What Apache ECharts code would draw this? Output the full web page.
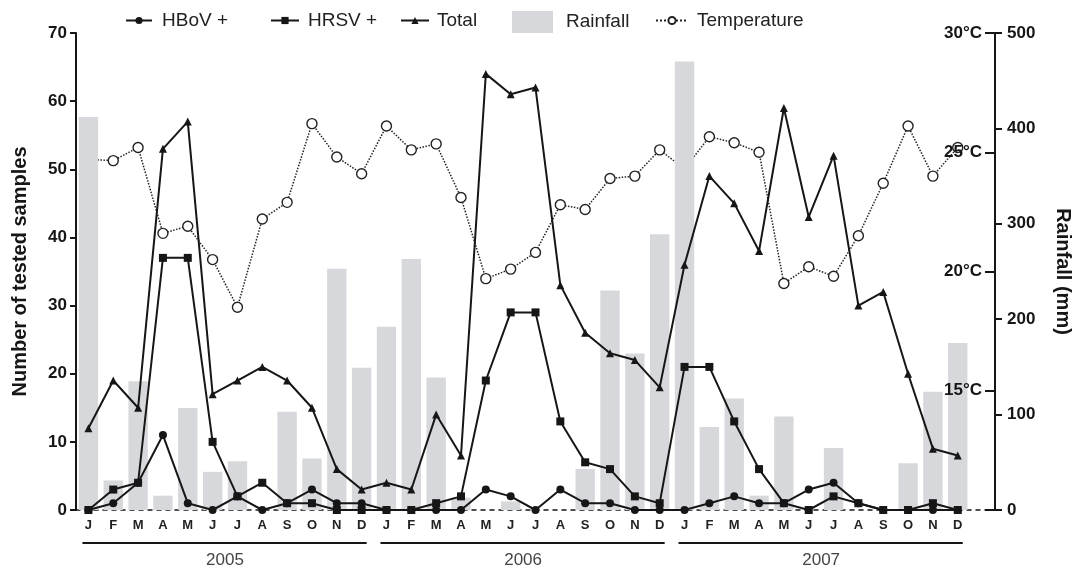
<!DOCTYPE html>
<html><head><meta charset="utf-8">
<script src="https://cdn.jsdelivr.net/npm/echarts@6/dist/echarts.min.js"></script>
<style>html,body{margin:0;padding:0;background:#fff}#c{width:1076px;height:573px}</style>
</head><body><div id="c"></div>
<script>
const monthLabels = ['J','F','M','A','M','J','J','A','S','O','N','D',
                     'J','F','M','A','M','J','J','A','S','O','N','D',
                     'J','F','M','A','M','J','J','A','S','O','N','D'];
const years = ['2005','2006','2007'];
const hbov = [0,1,4,11,1,0,2,0,1,3,1,1, 0,0,0,0,3,2,0,3,1,1,0,0, 0,1,2,1,1,3,4,1,0,0,0,0];
const hrsv = [0,3,4,37,37,10,2,4,1,1,0,0, 0,0,1,2,19,29,29,13,7,6,2,1, 21,21,13,6,1,0,2,1,0,0,1,0];
const total = [12,19,15,53,57,17,19,21,19,15,6,3, 4,3,14,8,64,61,62,33,26,23,22,18, 36,49,45,38,59,43,52,30,32,20,9,8];
const rainfall = [412,31,135,15,107,40,51,0,103,54,253,149, 192,263,139,13,0,9,0,0,43,230,164,289, 470,87,117,15,98,0,65,0,0,49,124,175];
const temperature = [24.7,24.65,25.2,21.6,21.9,20.5,18.5,22.2,22.9,26.2,24.8,24.1,
                     26.1,25.1,25.35,23.1,19.7,20.1,20.8,22.8,22.6,23.9,24.0,25.1,
                     24.3,25.65,25.4,25.0,19.5,20.2,19.8,21.5,23.7,26.1,24.0,25.2];
const leftTicks = {min:0, max:70, interval:10};
const rainTicks = {min:0, max:500, interval:100};
const tempTicks = {min:10, max:30, interval:5};

const FONT = '"Liberation Sans", Arial, sans-serif';
const INK = '#161616';
const chart = echarts.init(document.getElementById('c'));

function lineSeries(name, data, symbol, size) {
  return {name, type:'line', data, symbol, symbolSize:size, yAxisIndex:0, z:5,
    lineStyle:{color:INK, width:2}, itemStyle:{color:INK}};
}
function legendItem(name, left, w, h, pad, icon) {
  const l = {data:[icon ? {name, icon} : name], left:left, top:6, itemWidth:w, itemHeight:h, selectedMode:false,
    textStyle:{fontSize:19, color:'#222', fontFamily:FONT, padding:[0,0,0,pad]}};
  return l;
}

const option = {
  animation:false,
  textStyle:{fontFamily:FONT},
  grid:{left:76, right:81, top:33, bottom:63, containLabel:false, outerBoundsMode:'none'},
  legend:[
    legendItem('HBoV +', 120, 26, 9, 5),
    legendItem('HRSV +', 265, 28, 9, 4),
    legendItem('Total', 395, 28, 9, 3),
    legendItem('Rainfall', 507, 41, 22, 8, 'rect'),
    legendItem('Temperature', 650, 32, 9, 4)
  ],
  xAxis:{type:'category', data:monthLabels.concat(['']), boundaryGap:true,
    axisLine:{lineStyle:{color:INK, width:1.5, type:[4,5]}},
    axisTick:{alignWithLabel:true, length:5, lineStyle:{color:INK, width:2}, interval:(i)=>i<36},
    axisLabel:{interval:0, color:'#222', fontSize:13, fontWeight:'bold', margin:9}},
  yAxis:[
    {type:'value', ...leftTicks, name:'Number of tested samples', nameLocation:'middle', nameGap:46,
      nameTextStyle:{fontSize:20, fontWeight:'bold', color:INK},
      axisLine:{show:true, lineStyle:{color:INK, width:2}},
      axisTick:{show:true, length:6, lineStyle:{color:INK, width:2}},
      axisLabel:{color:INK, fontSize:17, fontWeight:'bold', margin:9}, splitLine:{show:false}},
    {type:'value', position:'right', ...rainTicks, name:'Rainfall (mm)', nameLocation:'middle', nameRotate:-90, nameGap:58,
      nameTextStyle:{fontSize:20, fontWeight:'bold', color:INK},
      axisLine:{show:true, lineStyle:{color:INK, width:2}},
      axisTick:{show:true, length:7, lineStyle:{color:INK, width:2}},
      axisLabel:{color:INK, fontSize:17, fontWeight:'bold', margin:12}, splitLine:{show:false}},
    {type:'value', position:'right', ...tempTicks, z:10,
      axisLine:{show:false},
      axisTick:{show:true, inside:true, length:10, lineStyle:{color:INK, width:2}},
      axisLabel:{inside:true, margin:13, color:INK, fontSize:17, fontWeight:'bold',
        padding:[0,0,12,0], formatter:(v)=> v===10 ? '' : v+'°C'},
      splitLine:{show:false}}
  ],
  series:[
    lineSeries('HBoV +', hbov, 'circle', 8),
    lineSeries('HRSV +', hrsv, 'rect', 8),
    lineSeries('Total', total, 'triangle', 8),
    {name:'Rainfall', type:'bar', data:rainfall, yAxisIndex:1, z:3, barWidth:'78%',
      itemStyle:{color:'#d6d8db'}},
    {name:'Temperature', type:'line', data:temperature, yAxisIndex:2, z:1,
      symbol:'circle', symbolSize:10,
      lineStyle:{color:'#222', width:1.5, type:'dotted'},
      itemStyle:{color:'#fff', borderColor:'#222', borderWidth:1.4}}
  ]
};
chart.setOption(option);

const y0 = chart.convertToPixel({yAxisIndex:0}, 0);
const graphics = [];
years.forEach((yr, k) => {
  const xa = chart.convertToPixel({xAxisIndex:0}, k*12);
  const xb = chart.convertToPixel({xAxisIndex:0}, k*12+11);
  graphics.push({type:'line', shape:{x1:xa-6, y1:y0+33, x2:xb+5, y2:y0+33}, style:{stroke:INK, lineWidth:2}});
  graphics.push({type:'text', x:(xa+xb)/2, y:y0+50, style:{text:yr, fill:'#444', font:'17px '+FONT, align:'center', verticalAlign:'middle'}});
});
chart.setOption({graphic:graphics});
</script></body></html>
